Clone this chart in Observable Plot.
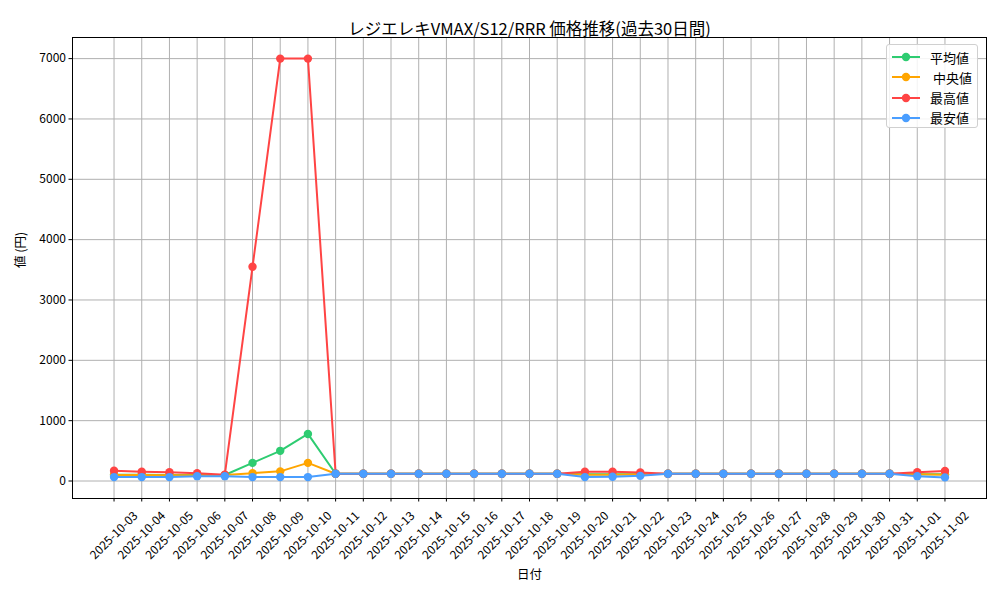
<!DOCTYPE html>
<html><head><meta charset="utf-8">
<script src="https://cdn.jsdelivr.net/npm/d3@7"></script>
<script src="https://cdn.jsdelivr.net/npm/@observablehq/plot@0.6"></script>
<style>
body{margin:0;background:#fff;font-family:"Noto Sans CJK JP",sans-serif;}
#wrap{position:relative;width:1000px;height:600px;}
#legend{position:absolute;left:886px;top:44px;width:92px;height:84px;border:1px solid #d0d0d0;border-radius:3px;background:rgba(255,255,255,0.85);box-sizing:border-box;}
.row{position:absolute;left:0;height:20px;display:flex;align-items:center;font-size:13px;color:#000;}
.row svg{margin-left:5px;margin-right:10px;}
</style></head>
<body><div id="wrap"></div>
<script>
const dates = ["2025-10-03","2025-10-04","2025-10-05","2025-10-06","2025-10-07","2025-10-08","2025-10-09","2025-10-10","2025-10-11","2025-10-12","2025-10-13","2025-10-14","2025-10-15","2025-10-16","2025-10-17","2025-10-18","2025-10-19","2025-10-20","2025-10-21","2025-10-22","2025-10-23","2025-10-24","2025-10-25","2025-10-26","2025-10-27","2025-10-28","2025-10-29","2025-10-30","2025-10-31","2025-11-01","2025-11-02"];
const meanVals   = [105,105,100,100,100,300,500,780,120,120,120,120,120,120,120,120,120,110,110,110,120,120,120,120,120,120,120,120,120,110,110];
const medianVals = [100,100,95,95,100,130,160,300,120,120,120,120,120,120,120,120,120,105,105,110,120,120,120,120,120,120,120,120,120,110,105];
const maxVals    = [170,155,145,130,105,3550,7000,7000,120,120,120,120,120,120,120,120,120,155,155,140,120,120,120,120,120,120,120,120,120,145,165];
const minVals    = [65,65,65,80,80,65,65,65,120,120,120,120,120,120,120,120,120,65,70,85,120,120,120,120,120,120,120,120,120,80,60];
const seriesNames = ["平均値","中央値","最高値","最安値"];
const seriesColors = ["#2ecc71","#ffa500","#ff4444","#4a9eff"];
const seriesVals = [meanVals, medianVals, maxVals, minVals];
const yTicks = [0,1000,2000,3000,4000,5000,6000,7000];
const titleText = "レジエレキVMAX/S12/RRR 価格推移(過去30日間)";
const xLabel = "日付";
const yLabel = "値 (円)";

const font = "Noto Sans CJK JP";
const seriesMarks = seriesNames.flatMap((name, i) => {
  const data = dates.map((d, j) => ({date: d, value: seriesVals[i][j]}));
  return [
    Plot.line(data, {x: "date", y: "value", stroke: seriesColors[i], strokeWidth: 2}),
    Plot.dot(data, {x: "date", y: "value", fill: seriesColors[i], r: 4.2})
  ];
});

const chart = Plot.plot({
  width: 1000, height: 600,
  marginLeft: 72, marginRight: 14, marginTop: 37, marginBottom: 102,
  style: {fontFamily: font, fontSize: "12px", color: "#000", background: "#fff"},
  x: {type: "point", domain: dates, padding: 1.5, round: false},
  y: {domain: [-290, 7350]},
  marks: [
    Plot.gridX(dates, {x: d => d, stroke: "#b0b0b0", strokeOpacity: 1, strokeWidth: 1}),
    Plot.gridY(yTicks, {y: d => d, stroke: "#b0b0b0", strokeOpacity: 1, strokeWidth: 1}),
    Plot.axisY(yTicks, {tickSize: 3.5, tickPadding: 3, fontSize: 12, label: null, stroke: "#000", tickFormat: d => String(d)}),
    Plot.axisX(dates, {tickSize: 3.5, tickFormat: () => "", label: null, stroke: "#000"}),
    Plot.text(dates, {x: d => d, frameAnchor: "bottom", dy: 37, rotate: -45, textAnchor: "middle", lineAnchor: "middle", fontSize: 12, fill: "#000"}),
    ...seriesMarks,
    Plot.frame({stroke: "#000", strokeWidth: 1}),
    Plot.text([titleText], {frameAnchor: "top", dy: -14, fontSize: 16.5, fill: "#000", text: d => d}),
    Plot.text([xLabel], {frameAnchor: "bottom", dy: 80, fontSize: 12.5, fill: "#000", text: d => d}),
    Plot.text([yLabel], {frameAnchor: "left", dx: -52, rotate: -90, fontSize: 12.5, fill: "#000", text: d => d})
  ]
});
const wrap = document.getElementById("wrap");
wrap.appendChild(chart);

const legend = document.createElement("div");
legend.id = "legend";
seriesNames.forEach((name, i) => {
  const row = document.createElement("div");
  row.className = "row";
  row.style.top = (2 + i * 20.3) + "px";
  row.innerHTML = `<svg width="28" height="12"><line x1="0" x2="28" y1="6" y2="6" stroke="${seriesColors[i]}" stroke-width="2"/><circle cx="14" cy="6" r="4.2" fill="${seriesColors[i]}"/></svg><span>${i === 1 ? "&nbsp;" : ""}${name}</span>`;
  legend.appendChild(row);
});
wrap.appendChild(legend);
</script></body></html>
